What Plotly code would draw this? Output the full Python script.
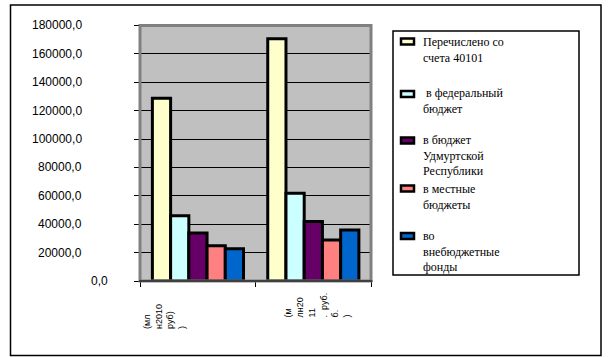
import plotly.graph_objects as go

W, H = 616, 357

categories = ["2010", "2011"]
series_names = [
    "Перечислено со\nсчета 40101",
    " в федеральный\nбюджет",
    "в бюджет\nУдмуртской\nРеспублики",
    "в местные\nбюджеты",
    "во\nвнебюджетные\nфонды",
]
series_colors = ["#FFFFCC", "#CCFFFF", "#660066", "#FF8080", "#0066CC"]
values_2010 = [128800, 45900, 33900, 24900, 22800]
values_2011 = [170600, 61900, 41900, 28900, 36000]
x_labels = ["(мл<br>н2010<br>руб)<br>)", "(м<br>лн20<br>11<br>.  руб.<br>б.<br>)"]
y_ticks = [0, 20000, 40000, 60000, 80000, 100000, 120000, 140000, 160000, 180000]
y_ticktext = ["0,0", "20000,0", "40000,0", "60000,0", "80000,0", "100000,0",
              "120000,0", "140000,0", "160000,0", "180000,0"]


def px(x):
    return x / W


def py(y):
    return 1 - y / H


fig = go.Figure()
for i, name in enumerate(series_names):
    fig.add_trace(go.Bar(
        x=categories,
        y=[values_2010[i], values_2011[i]],
        name=name.replace("\n", " "),
        marker=dict(color=series_colors[i], line=dict(color="black", width=3)),
        showlegend=False,
    ))

shapes = []
# outer chart border
shapes.append(dict(type="rect", xref="paper", yref="paper",
                   x0=px(10.5), x1=px(601), y0=py(355.5), y1=py(5),
                   line=dict(color="black", width=1.5), layer="below"))
# plot area gray frame
shapes.append(dict(type="rect", xref="paper", yref="paper",
                   x0=px(140), x1=px(371), y0=py(281), y1=py(25.5),
                   line=dict(color="#808080", width=3), layer="above"))
shapes.append(dict(type="line", xref="paper", yref="paper",
                   x0=px(139), x1=px(372.5), y0=py(281), y1=py(281),
                   line=dict(color="black", width=1.2), layer="above"))
# legend box
shapes.append(dict(type="rect", xref="paper", yref="paper",
                   x0=px(393), x1=px(579), y0=py(275), y1=py(31),
                   line=dict(color="black", width=1.5)))

annotations = []
# y tick labels
for v, t in zip(y_ticks, y_ticktext):
    xr = 110 if v == 0 else 84
    annotations.append(dict(x=px(xr), xref="paper", y=v, yref="y", text=t,
                            showarrow=False, xanchor="right", yanchor="middle",
                            font=dict(family="Arial", size=12, color="black")))

# x category labels (rotated)
label_x = [-0.29, 1.04]
label_bottom = [331, 319]
for lx, lb, t in zip(label_x, label_bottom, x_labels):
    annotations.append(dict(x=lx, xref="x", y=py(lb), yref="paper", text=t,
                            showarrow=False, textangle=-90, align="left",
                            xanchor="center", yanchor="bottom",
                            font=dict(family="Arial", size=9, color="black")))

# legend entries
marker_y = [41.5, 94, 140.5, 188.5, 236]
text_top = [33, 84, 131, 180, 227]
text_x = [421, 421, 421, 421, 421]
for i, name in enumerate(series_names):
    my = marker_y[i]
    shapes.append(dict(type="rect", xref="paper", yref="paper",
                       x0=px(401), x1=px(414), y0=py(my + 3), y1=py(my - 3),
                       fillcolor=series_colors[i],
                       line=dict(color="black", width=2.5)))
    txt = "<br>".join(("&nbsp;" + ln[1:]) if ln.startswith(" ") else ln
                      for ln in name.split("\n"))
    annotations.append(dict(x=px(text_x[i]), xref="paper", y=py(text_top[i]), yref="paper",
                            text=txt, showarrow=False, align="left",
                            xanchor="left", yanchor="top",
                            font=dict(family="Liberation Serif", size=12, color="black")))

fig.update_layout(
    width=W, height=H,
    margin=dict(l=0, r=0, t=0, b=0),
    paper_bgcolor="white",
    plot_bgcolor="#C0C0C0",
    barmode="group",
    bargap=0.21,
    bargroupgap=0,
    shapes=shapes,
    annotations=annotations,
    xaxis=dict(domain=[px(140), px(371)], showticklabels=False,
               ticks="outside", tickson="boundaries", ticklen=5,
               tickcolor="black", showgrid=False, showline=False,
               zeroline=False),
    yaxis=dict(domain=[py(281), py(25.5)], range=[0, 180000],
               tickvals=y_ticks, showticklabels=False,
               ticks="outside", ticklen=5, tickcolor="black",
               showgrid=True, gridcolor="black", gridwidth=1,
               zeroline=False, showline=False),
)

fig.write_html("out.html", config={"displayModeBar": False},
               post_script="document.body.style.margin='0px';")
